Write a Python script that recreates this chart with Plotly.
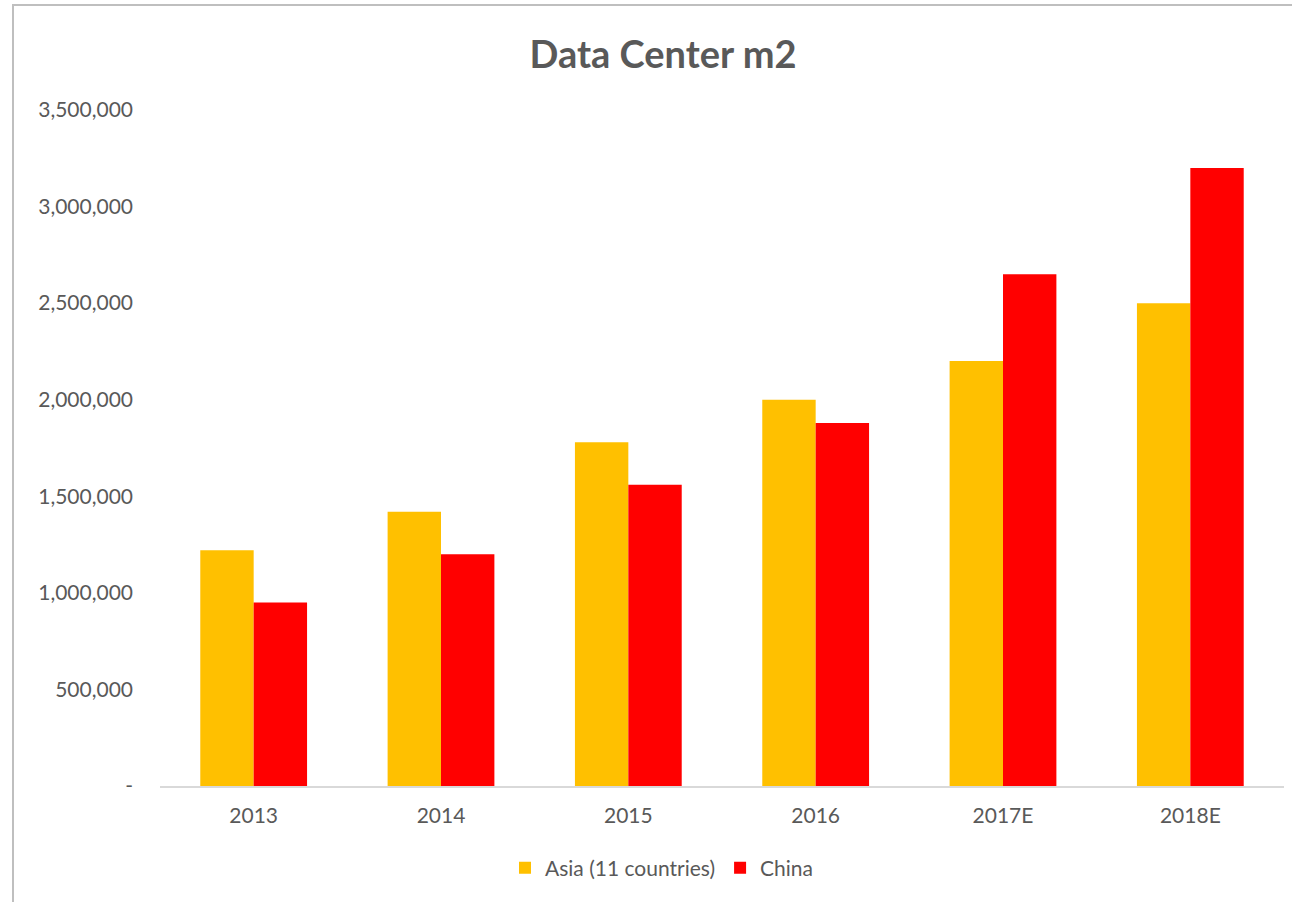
import plotly.graph_objects as go

categories = ["2013", "2014", "2015", "2016", "2017E", "2018E"]
asia = [1220000, 1420000, 1780000, 2000000, 2200000, 2500000]
china = [950000, 1200000, 1560000, 1880000, 2650000, 3200000]
y_tickvals = [0, 500000, 1000000, 1500000, 2000000, 2500000, 3000000, 3500000]
y_ticktext = ["-", "500,000", "1,000,000", "1,500,000", "2,000,000", "2,500,000", "3,000,000", "3,500,000"]

FONT = "Lato, Carlito, 'Open Sans', sans-serif"
GREY = "#595959"

fig = go.Figure()
fig.add_trace(go.Bar(x=categories, y=asia, name="Asia (11 countries)", marker=dict(color="#FFC000", line=dict(width=0))))
fig.add_trace(go.Bar(x=categories, y=china, name="China", marker=dict(color="#FF0000", line=dict(width=0))))

W, H = 1292, 902
L, R, T, B = 160, 8, 110, 116
PW, PH = W - L - R, H - T - B
fig.update_layout(
    width=W, height=H,
    margin=dict(l=L, r=R, t=T, b=B, autoexpand=False),
    paper_bgcolor="white", plot_bgcolor="white",
    barmode="group", bargap=0.43, bargroupgap=0,
    font=dict(family=FONT, color=GREY, size=21),
    title=dict(text="<b>Data Center m2</b>", x=663 / W, xref="container", xanchor="center",
               y=1 - 55 / H, yref="container", yanchor="middle",
               font=dict(size=38, color=GREY, family=FONT)),
    legend=dict(orientation="h", x=(662 - L) / PW, xanchor="center", xref="paper",
                y=-(868 - 786) / PH, yanchor="middle",
                font=dict(size=21, color=GREY), itemwidth=30, traceorder="normal"),
    xaxis=dict(showline=True, linecolor="#D9D9D9", linewidth=2, showgrid=False,
               ticks="", tickfont=dict(size=21, color=GREY), ticklabelstandoff=10),
    yaxis=dict(range=[0, 3500000], tickvals=y_tickvals, ticktext=y_ticktext,
               showgrid=False, zeroline=False, showline=False, ticks="",
               tickfont=dict(size=21, color=GREY), ticklabelstandoff=26),
    shapes=[dict(type="rect", xref="paper", yref="paper",
                 x0=(13 - L) / PW, x1=(W + 20 - L) / PW,
                 y0=-(H + 20 - (H - B)) / PH, y1=1 + (T - 5) / PH,
                 line=dict(color="#BFBFBF", width=2), fillcolor="rgba(0,0,0,0)", layer="below")],
)

fig.write_html("out.html", config={"displayModeBar": False},
               post_script="document.body.style.margin='0px';document.body.style.overflow='hidden';")
